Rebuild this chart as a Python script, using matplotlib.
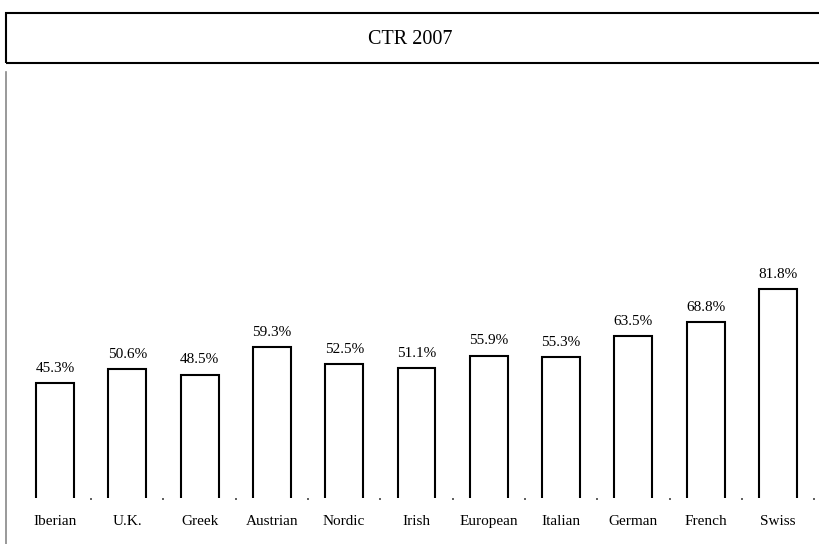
import matplotlib
matplotlib.use("Agg")
import matplotlib.pyplot as plt
from matplotlib.patches import Rectangle
from matplotlib.lines import Line2D
import numpy as np

# data
groups = ['Iberian', 'U.K.', 'Greek', 'Austrian', 'Nordic', 'Irish',
          'European', 'Italian', 'German', 'French', 'Swiss']
ctr = [45.3, 50.6, 48.5, 59.3, 52.5, 51.1, 55.9, 55.3, 63.5, 68.8, 81.8]
title = 'CTR 2007'

plt.rcParams['font.family'] = ['Liberation Serif', 'DejaVu Serif']

W, H = 820, 544
fig = plt.figure(figsize=(W / 100, H / 100), dpi=100)

# plot area, in pixels
left_px, right_px = 18.85, 814.15
base_px, top_px = 498, 70
ax = fig.add_axes([left_px / W, (H - base_px) / H,
                   (right_px - left_px) / W, (base_px - top_px) / H])

x = np.arange(len(groups))
ax.bar(x, ctr, width=0.525, facecolor='white', edgecolor='black', linewidth=1.5)
for xi, v in zip(x, ctr):
    ax.annotate('%.1f%%' % v, (xi, v), xytext=(0, 6), textcoords='offset points',
                ha='center', va='bottom', fontsize=11)

ax.set_xlim(-0.5, len(groups) - 0.5)
ax.set_ylim(0.6, (base_px - top_px) / 2.565)
for s in ax.spines.values():
    s.set_visible(False)
ax.set_yticks([])
ax.set_xticks(x)
ax.set_xticklabels(groups, fontsize=11)
ax.tick_params(axis='x', which='major', length=0, pad=12.5)
ax.set_xticks(x + 0.5, minor=True)
ax.tick_params(axis='x', which='minor', length=1.5, width=1.2, color='#444444')
for t in ax.xaxis.get_minorticklines():
    t.set_clip_on(False)

# title box
fig.patches.append(Rectangle((5.7 / W, (H - 62.5) / H), (W - 5.7 + 5) / W, 50 / H,
                             transform=fig.transFigure, facecolor='none',
                             edgecolor='black', linewidth=1.5))
fig.text(0.5, 1 - 40 / H, title, ha='center', va='center', fontsize=14.5)

# gray frame line on the left
fig.lines.append(Line2D([5.7 / W, 5.7 / W], [0, 1 - 72 / H], transform=fig.transFigure,
                        color='#888888', linewidth=1.2))

fig.savefig('out.png', dpi=100)
